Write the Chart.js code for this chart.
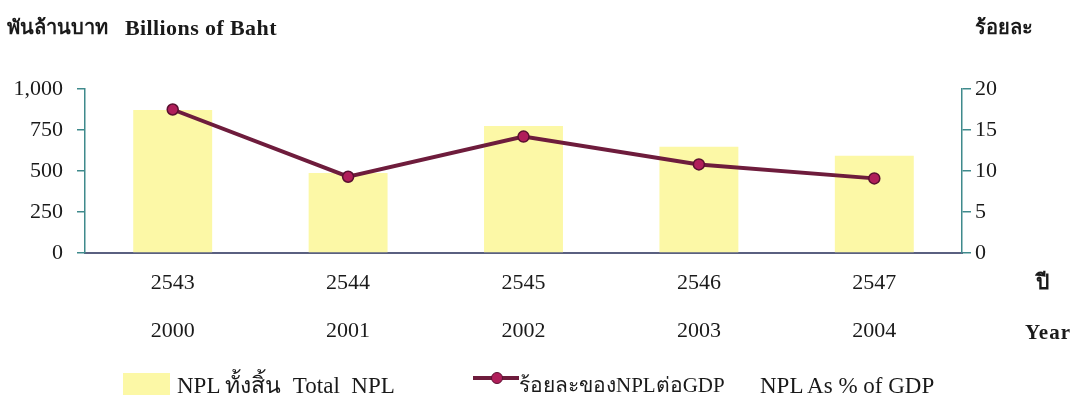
<!DOCTYPE html>
<html>
<head>
<meta charset="utf-8">
<script src="https://cdn.jsdelivr.net/npm/chart.js@4.4.1/dist/chart.umd.min.js"></script>
<style>
  html, body { margin: 0; padding: 0; background: #fff; }
  #wrap { position: relative; width: 1079px; height: 401px; overflow: hidden; }
  #c { position: absolute; left: 0; top: 0; }
  .t { position: absolute; white-space: pre; color: #1a1a1a; line-height: 1; }
  .bold { font-family: "Liberation Serif", serif; font-weight: bold; }
  .ser { font-family: "Liberation Serif", serif; font-size: 23px; }
</style>
</head>
<body>
<div id="wrap">
  <canvas id="c" width="1079" height="401"></canvas>
  <div class="t bold" style="left:7px; top:17px; font-size:20px;">พันล้านบาท</div>
  <div class="t bold" style="left:125px; top:17px; font-size:22px; letter-spacing:0.4px;">Billions of Baht</div>
  <div class="t bold" style="left:975px; top:17px; font-size:20px;">ร้อยละ</div>
  <div class="t bold" style="left:1036px; top:272px; font-size:21px;">ปี</div>
  <div class="t bold" style="left:1025px; top:322px; font-size:21px; letter-spacing:1px;">Year</div>
  <div style="position:absolute; left:123px; top:373px; width:47px; height:22px; background:#fcf8a6;"></div>
  <div class="t ser" style="left:177px; top:374px;">NPL ทั้งสิ้น  Total  NPL</div>
  <div style="position:absolute; left:473px; top:376px; width:46px; height:4px; background:#6e1c3c;"></div>
  <div style="position:absolute; left:491px; top:372px; width:10px; height:10px; border-radius:50%; background:#b01e5a; border:1.5px solid #5a1030;"></div>
  <div class="t ser" style="left:519px; top:375px; font-size:21px;">ร้อยละของNPLต่อGDP</div>
  <div class="t ser" style="left:760px; top:374px;">NPL As % of GDP</div>
</div>
<script>
const buddhistYears = ["2543", "2544", "2545", "2546", "2547"];
const gregorianYears = ["2000", "2001", "2002", "2003", "2004"];
const totalNPL = [872, 488, 774, 648, 593];
const nplPctGDP = [17.5, 9.3, 14.2, 10.8, 9.1];
const leftTicks = [0, 250, 500, 750, 1000];
const rightTicks = [0, 5, 10, 15, 20];

const labels = buddhistYears.map((b, i) => [b, gregorianYears[i]]);
const tickFont = { family: "'Liberation Serif', serif", size: 22 };

new Chart(document.getElementById('c'), {
  data: {
    labels: labels,
    datasets: [
      {
        type: 'line',
        label: 'ร้อยละของNPLต่อGDP NPL As % of GDP',
        data: nplPctGDP,
        yAxisID: 'y2',
        borderColor: '#6e1c3c',
        borderWidth: 4,
        pointRadius: 5.5,
        pointBackgroundColor: '#b01e5a',
        pointBorderColor: '#5a1030',
        pointBorderWidth: 1.5,
        tension: 0,
        order: 0
      },
      {
        type: 'bar',
        label: 'NPL ทั้งสิ้น Total NPL',
        data: totalNPL,
        yAxisID: 'y',
        backgroundColor: '#fcf8a6',
        borderWidth: 0,
        barPercentage: 0.45,
        categoryPercentage: 1.0,
        order: 1
      }
    ]
  },
  options: {
    responsive: false,
    animation: false,
    layout: { padding: { top: 89, left: 0, right: 0, bottom: 0 } },
    plugins: { legend: { display: false }, tooltip: { enabled: false } },
    scales: {
      x: {
        grid: { display: false },
        border: { display: true, color: '#5a6080', width: 2 },
        ticks: { font: { ...tickFont, lineHeight: 2.2 }, color: '#1a1a1a', padding: -2, maxRotation: 0 },
        afterFit: s => { s.height = 148; }
      },
      y: {
        position: 'left',
        min: 0, max: 1000,
        afterBuildTicks: s => { s.ticks = leftTicks.map(v => ({ value: v })); },
        grid: { drawOnChartArea: false, drawTicks: true, tickLength: 8, color: '#3f8a8c', lineWidth: 1.5 },
        border: { display: true, color: '#3f8a8c', width: 1.5 },
        ticks: {
          font: tickFont, color: '#1a1a1a', padding: 14,
          callback: v => v.toLocaleString('en-US')
        },
        afterFit: s => { s.width = 85; }
      },
      y2: {
        position: 'right',
        min: 0, max: 20,
        afterBuildTicks: s => { s.ticks = rightTicks.map(v => ({ value: v })); },
        grid: { drawOnChartArea: false, drawTicks: true, tickLength: 9, color: '#3f8a8c', lineWidth: 1.5 },
        border: { display: true, color: '#3f8a8c', width: 1.5 },
        ticks: { font: tickFont, color: '#1a1a1a', padding: 4 },
        afterFit: s => { s.width = 117; }
      }
    }
  }
});
</script>
</body>
</html>
